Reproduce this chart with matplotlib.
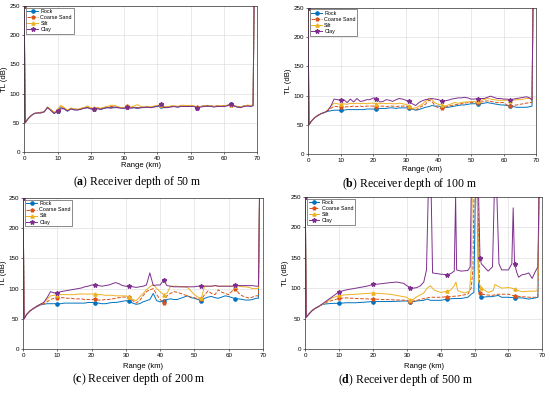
#import necessary libraries
import numpy as np
import matplotlib
matplotlib.use("Agg")
import matplotlib.pyplot as plt

plt.rcParams['font.family'] = ['Liberation Sans', 'DejaVu Sans']
plt.rcParams['mathtext.fontset'] = 'custom'
plt.rcParams['mathtext.rm'] = 'Liberation Serif'
plt.rcParams['mathtext.bf'] = 'Liberation Serif:bold'

#range grid (km) shared by panels a, b, c
rng = [0, 0.3,
       1, 2, 3, 4, 5, 6, 7, 8, 9, 10,
       11, 12, 13, 14, 15, 16, 17, 18, 19, 20,
       21, 22, 23, 24, 25, 26, 27, 28, 29, 30,
       31, 32, 33, 34, 35, 36, 37, 38, 39, 40,
       41, 42, 43, 44, 45, 46, 47, 48, 49, 50,
       51, 52, 53, 54, 55, 56, 57, 58, 59, 60,
       61, 62, 63, 64, 65, 66, 67, 68,
       68.7, 69]

#panel a: receiver depth 50 m
rock_a = [250, 50,
          56, 62, 66, 67, 67, 69, 77, 72, 66, 71,
          76, 74, 70, 74, 73, 72, 74, 75, 76, 74,
          74, 75, 73, 75, 76, 76, 77, 76, 76, 75,
          77, 76, 76, 75, 76, 77, 77, 76, 78, 78,
          79, 76, 77, 78, 78, 77, 78, 79, 78, 79,
          78, 76, 78, 79, 78, 79, 78, 79, 78, 79,
          80, 82, 79, 77, 77, 79, 79, 79,
          80, 250]
sand_a = [250, 50,
          56, 62, 66, 67, 68, 69, 76, 73, 67, 72,
          79, 75, 71, 75, 74, 73, 74, 76, 77, 75,
          74, 76, 74, 76, 77, 78, 78, 77, 76, 76,
          78, 76, 77, 76, 76, 77, 78, 77, 78, 79,
          80, 77, 77, 78, 79, 78, 78, 79, 79, 79,
          78, 77, 78, 79, 79, 79, 78, 79, 79, 79,
          80, 81, 79, 78, 77, 79, 80, 79,
          80, 250]
silt_a = [250, 50,
          56, 62, 66, 67, 68, 69, 77, 73, 68, 72,
          80, 76, 72, 75, 74, 73, 75, 76, 79, 76,
          75, 76, 75, 77, 78, 80, 80, 78, 76, 76,
          78, 77, 79, 81, 78, 77, 78, 77, 79, 80,
          80, 78, 77, 79, 79, 78, 80, 80, 79, 80,
          79, 77, 78, 79, 80, 79, 78, 79, 79, 79,
          80, 81, 79, 78, 77, 79, 80, 80,
          80, 250]
clay_a = [250, 50,
          56, 62, 66, 67, 67, 69, 76, 71, 66, 70,
          74, 74, 70, 74, 72, 72, 73, 75, 76, 74,
          73, 74, 73, 75, 76, 75, 76, 76, 75, 75,
          77, 75, 76, 75, 76, 76, 77, 76, 77, 78,
          82, 76, 76, 77, 78, 77, 78, 78, 78, 78,
          78, 76, 77, 78, 79, 78, 77, 78, 78, 78,
          79, 82, 79, 77, 76, 78, 79, 78,
          79, 250]

#panel b: receiver depth 100 m
rock_b = [250, 50,
          56, 62, 66, 69, 71, 73, 74, 75, 75, 75,
          75, 76, 76, 76, 76, 76, 76, 77, 77, 77,
          77, 78, 78, 78, 79, 79, 78, 79, 79, 79,
          79, 77, 75, 76, 78, 80, 81, 83, 82, 82,
          81, 80, 80, 81, 82, 83, 84, 84, 85, 86,
          86, 86, 86, 87, 88, 87, 86, 85, 84, 84,
          83, 82, 81, 80, 80, 80, 80, 81,
          82, 250]
sand_b = [250, 50,
          56, 62, 66, 69, 71, 74, 78, 82, 81, 80,
          80, 81, 81, 82, 81, 82, 81, 82, 82, 82,
          81, 82, 82, 81, 82, 82, 81, 82, 82, 82,
          80, 77, 75, 79, 82, 85, 92, 90, 82, 79,
          78, 80, 82, 83, 84, 85, 86, 87, 88, 88,
          88, 87, 89, 90, 91, 90, 89, 88, 88, 88,
          84, 82, 83, 84, 85, 86, 87, 88,
          88, 250]
silt_b = [250, 50,
          56, 62, 66, 69, 71, 75, 82, 87, 86, 85,
          86, 85, 87, 86, 87, 86, 87, 86, 87, 87,
          86, 86, 87, 86, 87, 86, 86, 87, 86, 85,
          82, 78, 79, 82, 85, 90, 95, 93, 87, 85,
          84, 82, 84, 86, 88, 87, 88, 89, 89, 90,
          90, 90, 92, 93, 95, 94, 93, 92, 92, 92,
          92, 91, 92, 93, 93, 94, 95, 95,
          94, 250]
clay_b = [250, 50,
          56, 62, 66, 69, 71, 74, 82, 94, 93, 92,
          93, 88, 94, 89, 95, 90, 91, 93, 93, 96,
          95, 89, 90, 93, 92, 90, 93, 95, 94, 92,
          90, 86, 83, 88, 91, 93, 94, 95, 94, 93,
          91, 91, 92, 94, 95, 96, 96, 97, 96, 94,
          94, 95, 95, 95, 97, 99, 97, 95, 95, 94,
          94, 93, 94, 95, 96, 97, 98, 96,
          92, 250]

#panel c: receiver depth 200 m
rock_c = [250, 50,
          57, 63, 67, 70, 73, 74, 75, 75, 75, 75,
          75, 76, 76, 76, 76, 76, 76, 76, 77, 77,
          77, 76, 75, 75, 76, 77, 77, 78, 79, 80,
          79, 76, 74, 75, 78, 80, 82, 92, 80, 78,
          80, 82, 83, 82, 82, 84, 86, 88, 85, 84,
          82, 80, 84, 86, 87, 85, 84, 86, 88, 87,
          85, 83, 83, 82, 81, 81, 82, 84,
          84, 250]
sand_c = [250, 50,
          57, 63, 67, 70, 73, 75, 78, 82, 84, 85,
          85, 85, 84, 84, 83, 83, 83, 82, 82, 82,
          82, 81, 81, 82, 82, 83, 84, 85, 86, 86,
          86, 80, 76, 80, 88, 95, 98, 100, 90, 82,
          77, 88, 92, 95, 94, 92, 90, 88, 86, 85,
          83, 82, 90, 96, 92, 90, 98, 94, 92, 90,
          96, 100, 92, 88, 86, 84, 86, 88,
          88, 250]
silt_c = [250, 50,
          57, 63, 67, 71, 74, 77, 82, 88, 89, 90,
          90, 90, 90, 90, 90, 91, 91, 91, 91, 91,
          91, 90, 90, 89, 89, 89, 88, 88, 88, 88,
          86, 82, 80, 86, 92, 98, 103, 107, 100, 95,
          90, 92, 104, 104, 104, 103, 103, 102, 96, 90,
          86, 84, 104, 104, 104, 105, 104, 104, 104, 104,
          104, 104, 104, 103, 103, 102, 100, 100,
          101, 250]
clay_c = [250, 50,
          57, 63, 67, 71, 74, 77, 85, 95, 93, 93,
          95, 96, 97, 98, 99, 100, 101, 103, 104, 106,
          106, 105, 104, 105, 106, 108, 110, 108, 105, 104,
          104, 103, 102, 103, 104, 106, 126, 105, 106, 106,
          114, 105, 104, 103, 103, 103, 103, 103, 103, 103,
          104, 104, 104, 104, 104, 105, 104, 104, 104, 104,
          104, 106, 105, 105, 105, 105, 105, 104,
          104, 250]

#panel d: receiver depth 500 m, (range, TL) pairs
rock_d = [(0, 250), (0.3, 52), (1, 57), (2, 63), (3, 67), (4, 70), (5, 73), (6, 74),
          (8, 75), (10, 75), (12, 76), (15, 76), (20, 78), (25, 78), (30, 79), (31, 77),
          (33, 79), (35, 80), (36, 82), (37, 80), (40, 80), (42, 82), (44, 83), (46, 83),
          (48, 85), (49, 90), (49.8, 93), (50.2, 250), (50.8, 250), (51.2, 95), (52, 85),
          (54, 86), (55, 86), (57, 88), (58, 85), (60, 85), (62, 84), (64, 84), (66, 82),
          (67, 83), (68, 84), (68.7, 85), (69, 250)]
sand_d = [(0, 250), (0.3, 52), (1, 57), (2, 63), (3, 67), (4, 70), (5, 73), (6, 76),
          (8, 80), (10, 83), (12, 84), (15, 83), (20, 82), (25, 81), (30, 80), (31, 78),
          (33, 80), (35, 83), (37, 85), (40, 85), (42, 86), (45, 87), (48, 90), (49, 100),
          (49.5, 130), (49.8, 250), (51, 250), (51.5, 92), (52, 90), (55, 88), (57, 90),
          (60, 90), (62, 87), (64, 86), (66, 85), (68, 85), (68.7, 86), (69, 250)]
silt_d = [(0, 250), (0.3, 52), (1, 57), (2, 63), (3, 67), (4, 70), (5, 73), (6, 77),
          (8, 84), (10, 88), (12, 89), (15, 90), (20, 92), (25, 90), (30, 85), (31, 80),
          (32, 82), (33, 86), (35, 92), (36, 100), (37, 104), (38, 97), (40, 93), (42, 95),
          (43, 97), (44, 104), (44.5, 110), (45, 96), (47, 92), (48.5, 95), (49, 130),
          (49.3, 250), (50.8, 250), (51.2, 110), (52, 100), (54, 93), (55.5, 96), (56, 106),
          (57, 103), (58, 100), (60, 101), (61, 100), (62, 98), (64, 94), (66, 95), (68, 95),
          (68.5, 96), (68.8, 135), (69, 250)]
clay_d = [(0, 250), (0.3, 52), (1, 57), (2, 63), (3, 67), (4, 70), (5, 74), (6, 78),
          (8, 86), (10, 94), (12, 97), (15, 100), (18, 103), (20, 106), (22, 107), (25, 109),
          (27, 110), (29, 108), (30, 104), (31, 101), (32, 100), (33, 101), (34, 104),
          (35, 110), (35.8, 130), (36.3, 250), (37.2, 250), (37.6, 125), (40, 123), (42, 122),
          (43, 124), (44, 128), (44.4, 250), (44.7, 130), (46, 128), (48, 129), (48.7, 135),
          (49, 250), (51.2, 250), (51.6, 150), (52, 140), (54, 128), (55.3, 135), (55.8, 250),
          (56.6, 250), (57.2, 140), (58, 130), (60, 130), (61, 140), (61.4, 232), (61.8, 140),
          (62.5, 125), (63, 118), (64, 122), (65, 123), (66, 125), (67, 116), (68, 128),
          (68.7, 135), (69, 250)]

labels = ["Rock", "Coarse Sand", "Silt", "Clay"]
colors = ["#0072BD", "#D95319", "#EDB120", "#7E2F8E"]
styles = ["-", "--", "-", "-"]
markers = ["o", "p", "^", "*"]
mark_r = [0, 10.3, 20.7, 31, 41.3, 51.7, 62]

captions = [r"($\mathbf{a}$) Receiver depth of 50 m",
            r"($\mathbf{b}$) Receiver depth of 100 m",
            r"($\mathbf{c}$) Receiver depth of 200 m",
            r"($\mathbf{d}$) Receiver depth of 500 m"]

panels = [
    [(rng, rock_a), (rng, sand_a), (rng, silt_a), (rng, clay_a)],
    [(rng, rock_b), (rng, sand_b), (rng, silt_b), (rng, clay_b)],
    [(rng, rock_c), (rng, sand_c), (rng, silt_c), (rng, clay_c)],
    [tuple(zip(*rock_d)), tuple(zip(*sand_d)), tuple(zip(*silt_d)), tuple(zip(*clay_d))],
]

#axes positions in figure fraction
boxes = [[0.044, 0.613, 0.424, 0.372],
         [0.560, 0.608, 0.415, 0.372],
         [0.042, 0.112, 0.436, 0.384],
         [0.555, 0.112, 0.431, 0.387]]
xlab_y = [-0.07, -0.085, -0.09, -0.095]
cap_pos = [(0.25, 0.538), (0.745, 0.533), (0.253, 0.036), (0.738, 0.032)]

fig = plt.figure(figsize=(5.5, 3.93), dpi=100)

for k in range(4):
    ax = fig.add_axes(boxes[k])
    for j in range(4):
        x, y = panels[k][j]
        x = np.array(x, dtype=float)
        idx = sorted(set(int(np.argmin(np.abs(x - m))) for m in mark_r))
        ax.plot(x, y, linestyle=styles[j], color=colors[j], lw=0.7,
                marker=markers[j], markevery=idx, markersize=2.3 if j != 3 else 3.2,
                label=labels[j])
    ax.set_xlim(0, 70)
    ax.set_ylim(0, 250)
    ax.set_xticks(range(0, 71, 10))
    ax.set_yticks(range(0, 251, 50))
    ax.grid(True, color="#e0e0e0", lw=0.5)
    ax.tick_params(labelsize=4.5, length=1.5, width=0.4, pad=1.5)
    for s in ax.spines.values():
        s.set_linewidth(0.5)
        s.set_color("#333333")
    ax.set_xlabel("Range (km)", fontsize=5.5)
    ax.set_ylabel("TL (dB)", fontsize=5.5)
    ax.xaxis.set_label_coords(0.5, xlab_y[k], transform=ax.transAxes)
    ax.yaxis.set_label_coords(-0.068, 0.5, transform=ax.transAxes)
    leg = ax.legend(loc="upper left", fontsize=3.9, handlelength=2.0,
                    borderpad=0.3, labelspacing=0.2, handletextpad=0.4,
                    fancybox=False, framealpha=1, borderaxespad=0.3)
    leg.get_frame().set_linewidth(0.4)
    leg.get_frame().set_edgecolor("#333333")
    fig.text(cap_pos[k][0], cap_pos[k][1], captions[k], ha="center", va="center",
             fontsize=8.5, family="Liberation Serif")

fig.savefig("out.png", dpi=100)
